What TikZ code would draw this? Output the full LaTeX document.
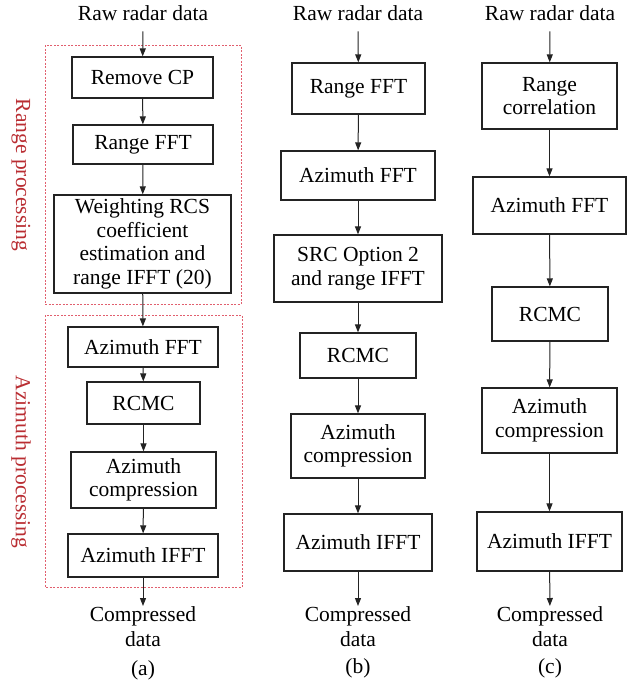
\documentclass[tikz,border=0pt]{standalone}
\usepackage{fontspec}
\setmainfont{Liberation Serif}
\usetikzlibrary{arrows.meta}
\definecolor{lblred}{RGB}{185,45,50}
\definecolor{dashred}{RGB}{225,95,110}
\definecolor{boxline}{RGB}{35,35,35}
\tikzset{
  proc/.style={draw=boxline, line width=1.2pt, inner sep=0pt, align=center,
    font=\fontsize{21.5}{23.5}\selectfont},
  txt/.style={inner sep=0pt, align=center, font=\fontsize{21.5}{25}\selectfont},
  arr/.style={draw=boxline, line width=1pt, -{Triangle[length=8pt,width=6pt]}},
  grp/.style={draw=dashred, line width=0.8pt, dash pattern=on 2pt off 1.5pt},
  side/.style={inner sep=0pt, text=lblred, rotate=-90, font=\fontsize{21.5}{25}\selectfont}
}
\begin{document}
\begin{tikzpicture}[x=1pt,y=-1pt]
\useasboundingbox (0,0) rectangle (642,683);
% ---------- column (a)
\draw[grp] (45,45) rectangle (241,304);
\draw[grp] (45,315) rectangle (242,587);
\node[side] (lrange) at (21,175) {Range processing};
\node[side] (lazim) at (21,462) {Azimuth processing};
\node[txt, anchor=base] (rawa) at (143,20) {Raw radar data};
\node[proc, minimum width=141pt, minimum height=41pt] (remcp) at (142.5,77.5) {Remove CP};
\node[proc, minimum width=140pt, minimum height=39pt] (rffta) at (143,144.5) {Range FFT};
\node[proc, minimum width=177pt, minimum height=98pt] (weight) at (142.5,244) {Weighting RCS\\coefficient\\estimation and\\range IFFT (20)};
\node[proc, minimum width=150pt, minimum height=40pt] (affta) at (143,347) {Azimuth FFT};
\node[proc, minimum width=113pt, minimum height=42pt] (rcmca) at (143.5,403) {RCMC};
\node[proc, minimum width=145pt, minimum height=56pt] (azca) at (143.5,480) {Azimuth\\compression};
\node[proc, minimum width=150pt, minimum height=43pt] (aiffta) at (143,555.5) {Azimuth IFFT};
\node[txt, anchor=north] (compa) at (143,606) {Compressed\\data};
\node[txt, anchor=base] (laba) at (143,675) {(a)};
\draw[arr, shorten <=11pt] (rawa.south) -- (remcp);
\draw[arr] (remcp) -- (rffta);
\draw[arr] (rffta) -- (weight);
\draw[arr] (weight) -- (affta);
\draw[arr] (affta) -- (rcmca);
\draw[arr] (rcmca) -- (azca);
\draw[arr] (azca) -- (aiffta);
\draw[arr] (aiffta) -- (compa);
% ---------- column (b)
\node[txt, anchor=base] (rawb) at (358,20) {Raw radar data};
\node[proc, minimum width=133pt, minimum height=51pt] (rfftb) at (358.5,88.5) {Range FFT};
\node[proc, minimum width=154pt, minimum height=49pt] (afftb) at (358,175.5) {Azimuth FFT};
\node[proc, minimum width=168pt, minimum height=67pt] (srcb) at (358,268.5) {SRC Option 2\\and range IFFT};
\node[proc, minimum width=116pt, minimum height=45pt] (rcmcb) at (358,355.5) {RCMC};
\node[proc, minimum width=134pt, minimum height=64pt] (azcb) at (358,446) {Azimuth\\compression};
\node[proc, minimum width=148pt, minimum height=57pt] (aifftb) at (358,542.5) {Azimuth IFFT};
\node[txt, anchor=north] (compb) at (358,606) {Compressed\\data};
\node[txt, anchor=base] (labb) at (358,673) {(b)};
\draw[arr, shorten <=11pt] (rawb.south) -- (rfftb);
\draw[arr] (rfftb) -- (afftb);
\draw[arr] (afftb) -- (srcb);
\draw[arr] (srcb) -- (rcmcb);
\draw[arr] (rcmcb) -- (azcb);
\draw[arr] (azcb) -- (aifftb);
\draw[arr] (aifftb) -- (compb);
% ---------- column (c)
\node[txt, anchor=base] (rawc) at (550,20) {Raw radar data};
\node[proc, minimum width=135pt, minimum height=66pt] (rcorc) at (549.5,96) {Range\\correlation};
\node[proc, minimum width=153pt, minimum height=57pt] (afftc) at (549.5,205.5) {Azimuth FFT};
\node[proc, minimum width=116pt, minimum height=54pt] (rcmcc) at (550,314) {RCMC};
\node[proc, minimum width=135pt, minimum height=65pt] (azcc) at (549.5,420.5) {Azimuth\\compression};
\node[proc, minimum width=145pt, minimum height=59pt] (aifftc) at (549.5,541.5) {Azimuth IFFT};
\node[txt, anchor=north] (compc) at (550,606) {Compressed\\data};
\node[txt, anchor=base] (labc) at (550,673) {(c)};
\draw[arr, shorten <=11pt] (rawc.south) -- (rcorc);
\draw[arr] (rcorc) -- (afftc);
\draw[arr] (afftc) -- (rcmcc);
\draw[arr] (rcmcc) -- (azcc);
\draw[arr] (azcc) -- (aifftc);
\draw[arr] (aifftc) -- (compc);
\end{tikzpicture}
\end{document}
